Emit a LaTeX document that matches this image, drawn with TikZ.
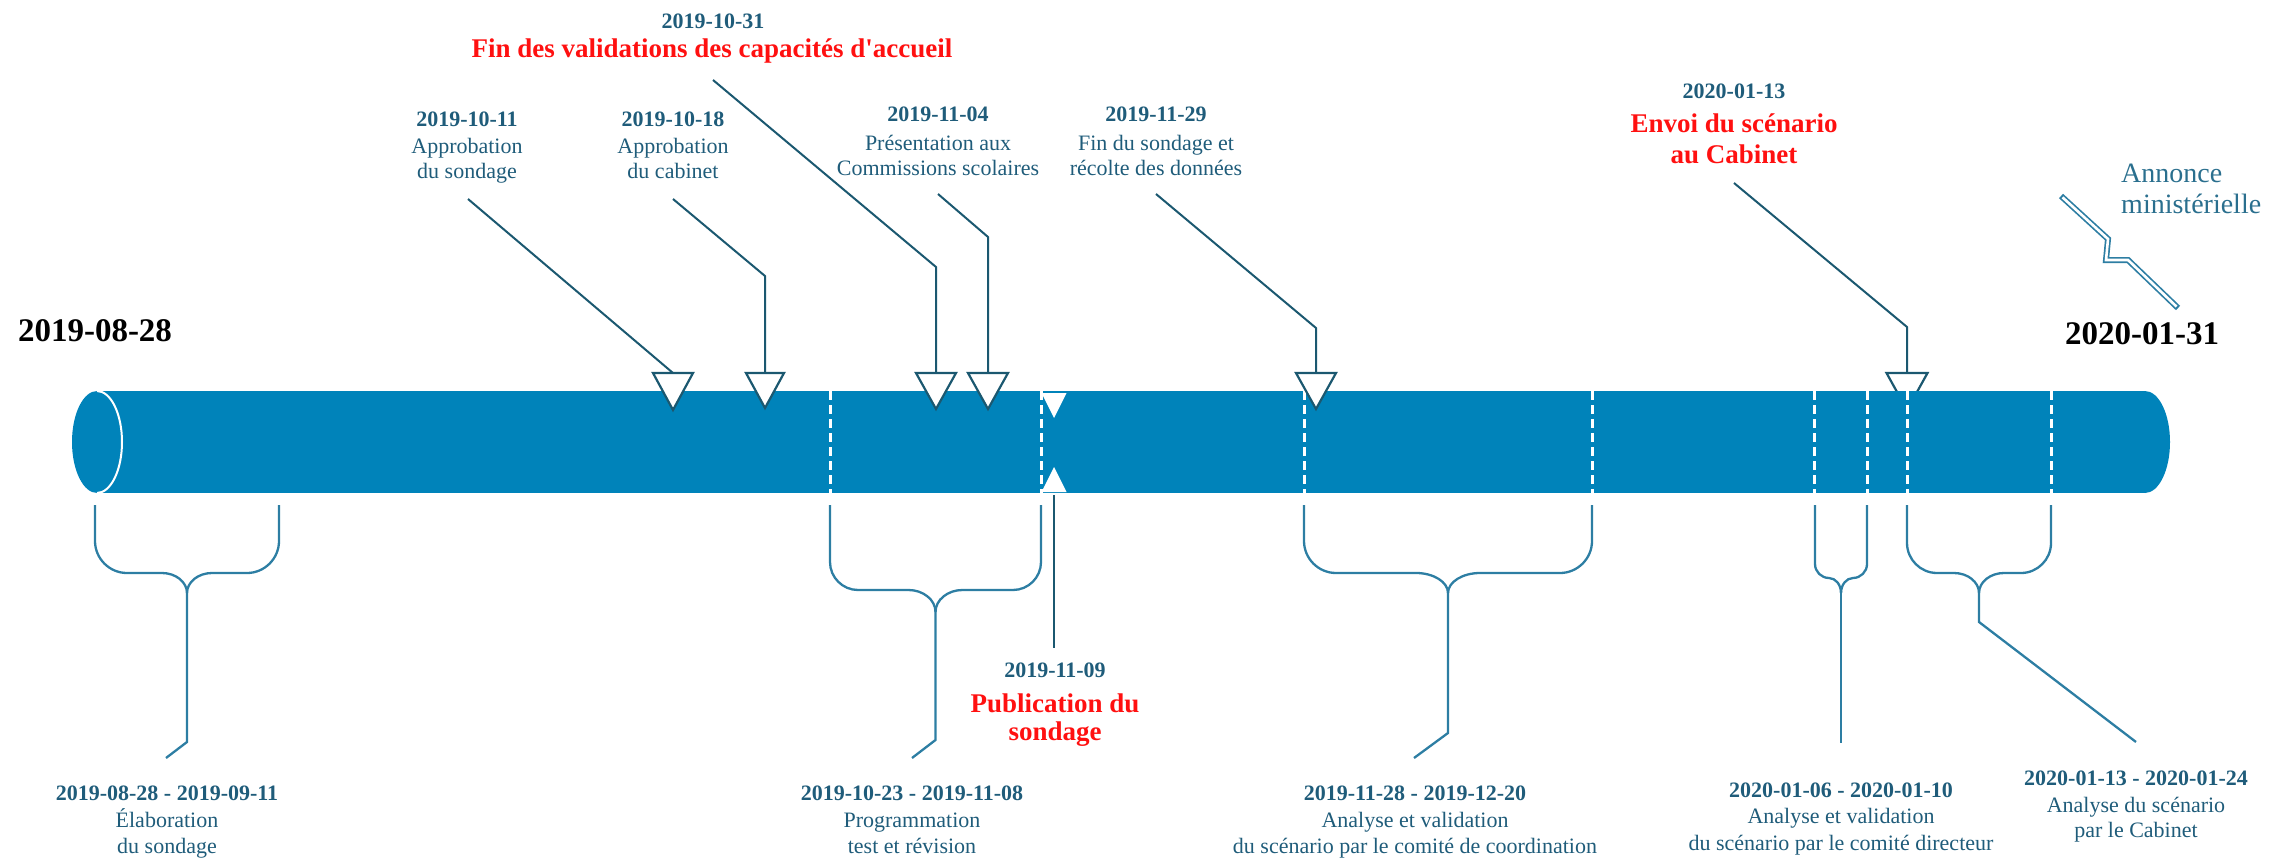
\documentclass[tikz,border=0pt]{standalone}
\usepackage{fontspec}
\setmainfont{Liberation Serif}
\newfontfamily\plainq{Liberation Serif}
\definecolor{cyl}{HTML}{0083BA}
\definecolor{txt}{HTML}{1F5C7A}
\definecolor{brc}{HTML}{2D7EA3}
\definecolor{cal}{HTML}{1B5870}
\definecolor{redt}{HTML}{FF1010}
\definecolor{ann}{HTML}{2A6F8E}
\newcommand{\tlbrace}[6]{%
  \pgfmathsetmacro{\bC}{(#1+#2)/2}%
  \draw[bracel] (#1,505) -- (#1,#3-#4) .. controls (#1,#3-0.45*#4) and (#1+0.45*#4,#3) .. (#1+#4,#3) -- (\bC-#6,#3) .. controls (\bC-0.45*#6,#3) and (\bC,#3+0.45*#5) .. (\bC,#3+#5);
  \draw[bracel] (#2,505) -- (#2,#3-#4) .. controls (#2,#3-0.45*#4) and (#2-0.45*#4,#3) .. (#2-#4,#3) -- (\bC+#6,#3) .. controls (\bC+0.45*#6,#3) and (\bC,#3+0.45*#5) .. (\bC,#3+#5);
}
\newcommand{\tridown}[4]{%
  \draw[tri] (#1-#3,#2) -- (#1+#3,#2) -- (#1,#2+#4) -- cycle;
}
\begin{document}
\begin{tikzpicture}[x=1pt,y=-1pt,
  dt/.style={anchor=base, font=\fontsize{22}{26}\selectfont\bfseries, text=txt, inner sep=0pt},
  lb/.style={anchor=base, font=\fontsize{22}{26}\selectfont, text=txt, inner sep=0pt},
  rd/.style={anchor=base, font=\fontsize{27}{31}\selectfont\bfseries, text=redt, inner sep=0pt},
  big/.style={anchor=base, font=\fontsize{33}{38}\selectfont\bfseries, text=black, inner sep=0pt},
  an/.style={anchor=base west, font=\fontsize{28}{32}\selectfont, text=ann, inner sep=0pt},
  callout/.style={draw=cal, line width=2pt},
  bracel/.style={draw=brc, line width=2.3pt},
  tri/.style={fill=white, draw=cal, line width=2.2pt, line join=miter},
  cut/.style={draw=white, line width=3pt, dash pattern=on 9pt off 5pt}]
\useasboundingbox (0,0) rectangle (2273,861);

% triangle partly hidden behind the cylinder
\coordinate (t6) at (1907,373);
\tridown{1907}{373}{20.5}{37}

% cylinder
\fill[cyl] (97,391) rectangle (2145,493);
\fill[cyl] (97,442) ellipse [x radius=25pt, y radius=51pt];
\fill[cyl] (2145,442) ellipse [x radius=25pt, y radius=51pt];
\draw[white, line width=2pt] (97,391) .. controls (110.8,391) and (122,413.8) .. (122,442) .. controls (122,470.2) and (110.8,493) .. (97,493);
\foreach \x in {830,1041,1304,1592,1814,1867,1907,2051} \draw[cut] (\x,391) -- (\x,493);

% markers
\coordinate (t1) at (673,373);
\coordinate (t2) at (765,373);
\coordinate (t3) at (936,373);
\coordinate (t4) at (988,373);
\coordinate (t5) at (1316,373);
\tridown{673}{373}{20}{37}
\tridown{765}{373}{19}{35}
\tridown{936}{373}{20}{36}
\tridown{988}{373}{20}{36}
\tridown{1316}{373}{20}{36}
\fill[white] (1041.5,393) -- (1066.5,393) -- (1054,418) -- cycle;
\fill[white] (1041.5,492) -- (1066.5,492) -- (1054,467) -- cycle;

% big dates
\node[big] (start) at (95,341) {2019-08-28};
\node[big] (end) at (2142,344) {2020-01-31};

% top labels
\node[dt] (d1) at (467,127) {2019-10-11};
\node[lb] (d1a) at (467,154) {Approbation};
\node[lb] (d1b) at (467,179) {du sondage};
\node[dt] (d2) at (673,127) {2019-10-18};
\node[lb] (d2a) at (673,154) {Approbation};
\node[lb] (d2b) at (673,179) {du cabinet};
\node[dt] (d3) at (713,29) {2019-10-31};
\node[rd] (d3a) at (712,58) {Fin des validations des capacités d{\plainq\bfseries '}accueil};
\node[dt] (d4) at (938,122) {2019-11-04};
\node[lb] (d4a) at (938,151) {Présentation aux};
\node[lb] (d4b) at (938,176) {Commissions scolaires};
\node[dt] (d5) at (1156,122) {2019-11-29};
\node[lb] (d5a) at (1156,151) {Fin du sondage et};
\node[lb] (d5b) at (1156,176) {récolte des données};
\node[dt] (d6) at (1734,99) {2020-01-13};
\node[rd] (d6a) at (1734,133) {Envoi du scénario};
\node[rd] (d6b) at (1734,164) {au Cabinet};
\node[an] (an1) at (2121,183) {Annonce};
\node[an] (an2) at (2121,214) {ministérielle};

% callouts
\coordinate (c1) at (468,199);
\coordinate (c2) at (673,199); \coordinate (k2) at (765,276);
\coordinate (c3) at (713,80);  \coordinate (k3) at (936,267);
\coordinate (c4) at (938,194); \coordinate (k4) at (988,237);
\coordinate (c5) at (1156,194); \coordinate (k5) at (1316,328);
\coordinate (c6) at (1734,183); \coordinate (k6) at (1907,327);
\draw[callout] (c1) -- (t1);
\draw[callout] (c2) -- (k2) -- (t2);
\draw[callout] (c3) -- (k3) -- (t3);
\draw[callout] (c4) -- (k4) -- (t4);
\draw[callout] (c5) -- (k5) -- (t5);
\draw[callout] (c6) -- (k6) -- (t6);

% announcement bolt
\draw[brc, line width=6pt, line join=miter] (2061,196) -- (2108,239) -- (2106,260) -- (2128,260) -- (2178,308);
\draw[white, line width=2.6pt, line join=miter, shorten <=2pt, shorten >=2pt] (2061,196) -- (2108,239) -- (2106,260) -- (2128,260) -- (2178,308);

% publication
\coordinate (p0) at (1054,495);
\coordinate (p1) at (1054,648);
\draw[callout] (p0) -- (p1);
\node[dt] (pd) at (1055,677) {2019-11-09};
\node[rd] (pa) at (1055,712) {Publication du};
\node[rd] (pb) at (1055,740) {sondage};

% braces
\tlbrace{95}{279}{573}{32}{20}{25}
\tlbrace{830}{1041}{590}{28}{22}{27}
\tlbrace{1304}{1592}{573}{32}{20}{32}
\tlbrace{1815}{1867}{578}{14}{15}{12}
\tlbrace{1907}{2051}{573}{30}{20}{25}
\draw[bracel] (187,593) -- (187,742) -- (166,758);
\draw[bracel] (935.5,612) -- (935.5,740) -- (912,758);
\draw[bracel] (1448,593) -- (1448,733) -- (1414,758);
\draw[bracel] (1841,593) -- (1841,743);
\draw[bracel] (1979,593) -- (1979,622) -- (2136,742);

% bottom labels
\node[dt] (b1) at (167,800) {2019-08-28 - 2019-09-11};
\node[lb] (b1a) at (167,827) {Élaboration};
\node[lb] (b1b) at (167,853) {du sondage};
\node[dt] (b2) at (912,800) {2019-10-23 - 2019-11-08};
\node[lb] (b2a) at (912,827) {Programmation};
\node[lb] (b2b) at (912,853) {test et révision};
\node[dt] (b3) at (1415,800) {2019-11-28 - 2019-12-20};
\node[lb] (b3a) at (1415,827) {Analyse et validation};
\node[lb] (b3b) at (1415,853) {du scénario par le comité de coordination};
\node[dt] (b4) at (1841,797) {2020-01-06 - 2020-01-10};
\node[lb] (b4a) at (1841,823) {Analyse et validation};
\node[lb] (b4b) at (1841,850) {du scénario par le comité directeur};
\node[dt] (b5) at (2136,785) {2020-01-13 - 2020-01-24};
\node[lb] (b5a) at (2136,812) {Analyse du scénario};
\node[lb] (b5b) at (2136,837) {par le Cabinet};
\end{tikzpicture}
\end{document}
